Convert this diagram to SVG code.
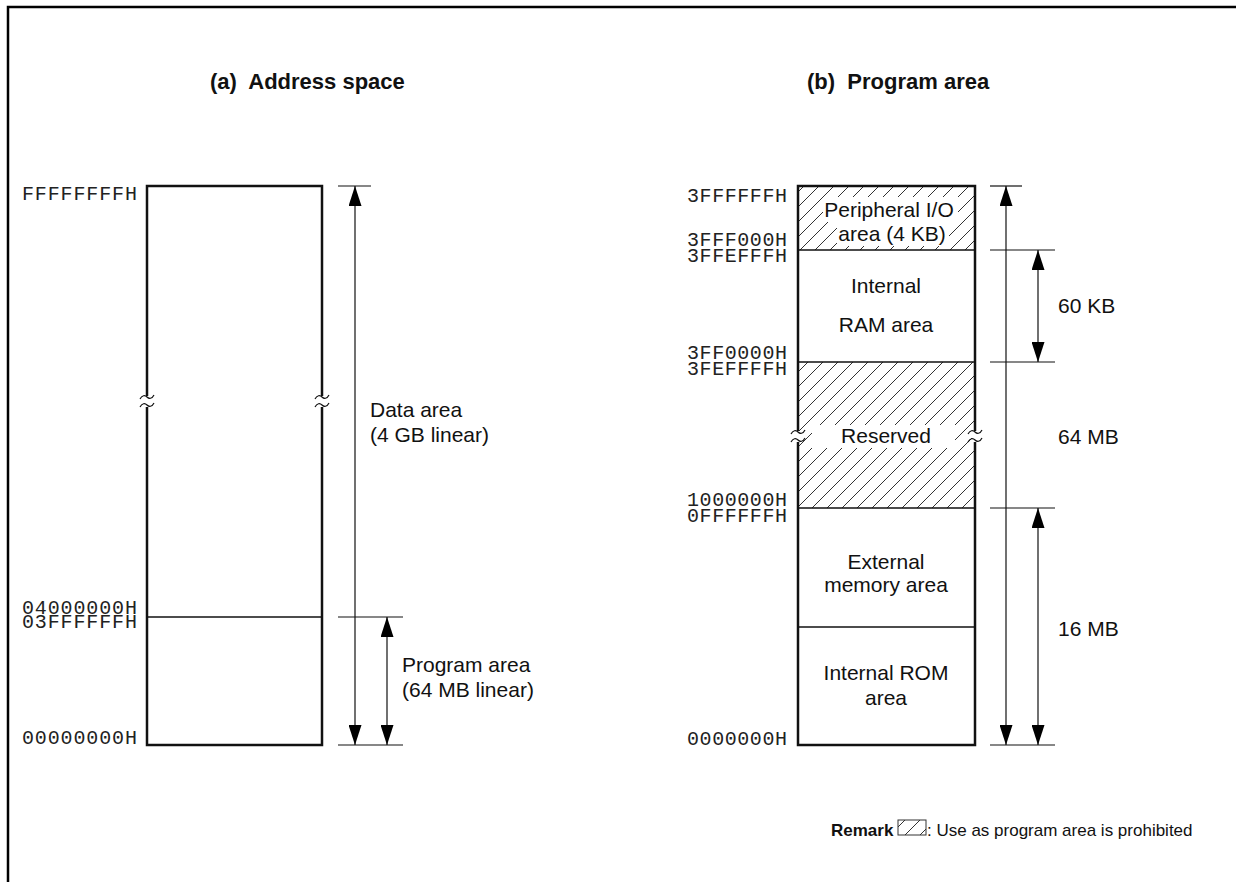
<svg xmlns="http://www.w3.org/2000/svg" width="1236" height="882" viewBox="0 0 1236 882">
<style>
.mono{font-family:"Liberation Mono","Courier New",monospace;font-size:20px;fill:#222}
.t{font-family:"Liberation Sans",Arial,sans-serif;font-size:21px;fill:#111}
.tc{font-family:"Liberation Sans",Arial,sans-serif;font-size:21px;fill:#111;text-anchor:middle}
.ttl{font-family:"Liberation Sans",Arial,sans-serif;font-size:22px;font-weight:bold;fill:#111}
.rm{font-family:"Liberation Sans",Arial,sans-serif;font-size:17px;fill:#111}
.box{fill:none;stroke:#111;stroke-width:2.5}
.div{stroke:#111;stroke-width:1.3;fill:none}
.ln{stroke:#111;stroke-width:1.2;fill:none}
.tk{stroke:#111;stroke-width:1.2;fill:none}
.brk{stroke:#111;stroke-width:1.2;fill:none}
</style>
<defs>
<pattern id="hatch" patternUnits="userSpaceOnUse" width="15" height="15">
<path d="M-1,16 L16,-1 M-4,4 L4,-4 M11,19 L19,11" stroke="#333" stroke-width="1"/>
</pattern>
<marker id="ah" viewBox="0 0 20 13" refX="20" refY="6.5" markerWidth="20" markerHeight="13" markerUnits="userSpaceOnUse" orient="auto-start-reverse">
<path d="M0,0 L20,6.5 L0,13 Z" fill="#000"/>
</marker>
<path id="tilde" d="M-7,2 C-5,-2 -2,-2 0,0 S5,2 7,-2"/>
</defs>
<rect width="1236" height="882" fill="#fff"/>
<g id="frame">
<path d="M8,882 L8,7 L1236,7" fill="none" stroke="#000" stroke-width="2.5"/>
</g>
<g id="titles">
<text class="ttl" x="210" y="89" xml:space="preserve">(a)  Address space</text>
<text class="ttl" x="807" y="89" xml:space="preserve">(b)  Program area</text>
</g>
<g id="address-space">
<rect class="box" x="147" y="186" width="175" height="559"/>
<line class="div" x1="147" y1="617" x2="322" y2="617"/>
<rect x="144" y="396" width="6" height="11" fill="#fff"/>
<rect x="319" y="396" width="6" height="11" fill="#fff"/>
<use href="#tilde" x="147" y="397" class="brk"/>
<use href="#tilde" x="147" y="405" class="brk"/>
<use href="#tilde" x="322" y="397" class="brk"/>
<use href="#tilde" x="322" y="405" class="brk"/>
</g>
<g id="labels-a">
<text class="mono" x="22" y="200" textLength="115" lengthAdjust="spacing">FFFFFFFFH</text>
<text class="mono" x="22" y="614" textLength="115" lengthAdjust="spacing">04000000H</text>
<text class="mono" x="22" y="628" textLength="115" lengthAdjust="spacing">03FFFFFFH</text>
<text class="mono" x="22" y="744" textLength="115" lengthAdjust="spacing">00000000H</text>
</g>
<g id="program-area">
<rect x="798" y="186" width="177" height="64" fill="url(#hatch)"/>
<rect x="798" y="362" width="177" height="146" fill="url(#hatch)"/>
<rect x="823" y="197" width="135" height="25" fill="#fff"/>
<rect x="837" y="222" width="112" height="24" fill="#fff"/>
<rect x="812" y="425" width="143" height="23" fill="#fff"/>
<rect class="box" x="798" y="186" width="177" height="559"/>
<line class="div" x1="798" y1="250" x2="975" y2="250"/>
<line class="div" x1="798" y1="362" x2="975" y2="362"/>
<line class="div" x1="798" y1="508" x2="975" y2="508"/>
<line class="div" x1="798" y1="627" x2="975" y2="627"/>
<rect x="795" y="431" width="6" height="11" fill="#fff"/>
<rect x="972" y="431" width="6" height="11" fill="#fff"/>
<use href="#tilde" x="798" y="432" class="brk"/>
<use href="#tilde" x="798" y="440" class="brk"/>
<use href="#tilde" x="975" y="432" class="brk"/>
<use href="#tilde" x="975" y="440" class="brk"/>
<text class="tc" x="889" y="217">Peripheral I/O</text>
<text class="tc" x="892" y="241">area (4 KB)</text>
<text class="tc" x="886" y="293">Internal</text>
<text class="tc" x="886" y="332">RAM area</text>
<text class="tc" x="886" y="443">Reserved</text>
<text class="tc" x="886" y="569">External</text>
<text class="tc" x="886" y="592">memory area</text>
<text class="tc" x="886" y="680">Internal ROM</text>
<text class="tc" x="886" y="705">area</text>
</g>
<g id="labels-b">
<text class="mono" x="687" y="202" textLength="100" lengthAdjust="spacing">3FFFFFFH</text>
<text class="mono" x="687" y="246" textLength="100" lengthAdjust="spacing">3FFF000H</text>
<text class="mono" x="687" y="262" textLength="100" lengthAdjust="spacing">3FFEFFFH</text>
<text class="mono" x="687" y="359" textLength="100" lengthAdjust="spacing">3FF0000H</text>
<text class="mono" x="687" y="375" textLength="100" lengthAdjust="spacing">3FEFFFFH</text>
<text class="mono" x="687" y="506" textLength="100" lengthAdjust="spacing">1000000H</text>
<text class="mono" x="687" y="522" textLength="100" lengthAdjust="spacing">0FFFFFFH</text>
<text class="mono" x="687" y="745" textLength="100" lengthAdjust="spacing">0000000H</text>
</g>
<g id="connectors">
<line class="tk" x1="338" y1="186" x2="371" y2="186"/>
<line class="tk" x1="338" y1="617" x2="403" y2="617"/>
<line class="tk" x1="338" y1="745" x2="403" y2="745"/>
<line class="ln" x1="355" y1="186" x2="355" y2="745" marker-start="url(#ah)" marker-end="url(#ah)"/>
<line class="ln" x1="387" y1="617" x2="387" y2="745" marker-start="url(#ah)" marker-end="url(#ah)"/>
<line class="tk" x1="990" y1="186" x2="1022" y2="186"/>
<line class="tk" x1="990" y1="250" x2="1055" y2="250"/>
<line class="tk" x1="990" y1="362" x2="1055" y2="362"/>
<line class="tk" x1="990" y1="508" x2="1055" y2="508"/>
<line class="tk" x1="990" y1="745" x2="1055" y2="745"/>
<line class="ln" x1="1006" y1="186" x2="1006" y2="745" marker-start="url(#ah)" marker-end="url(#ah)"/>
<line class="ln" x1="1038" y1="250" x2="1038" y2="362" marker-start="url(#ah)" marker-end="url(#ah)"/>
<line class="ln" x1="1038" y1="508" x2="1038" y2="745" marker-start="url(#ah)" marker-end="url(#ah)"/>
</g>
<g id="dim-labels">
<text class="t" x="370" y="417">Data area</text>
<text class="t" x="370" y="442">(4 GB linear)</text>
<text class="t" x="402" y="672">Program area</text>
<text class="t" x="402" y="697">(64 MB linear)</text>
<text class="t" x="1058" y="313">60 KB</text>
<text class="t" x="1058" y="444">64 MB</text>
<text class="t" x="1058" y="636">16 MB</text>
</g>
<g id="remark">
<text class="rm" x="831" y="836" font-weight="bold">Remark</text>
<rect x="898" y="820" width="28" height="15" fill="url(#hatch)" stroke="#333" stroke-width="1"/>
<text class="rm" x="927" y="836">: Use as program area is prohibited</text>
</g>
</svg>
